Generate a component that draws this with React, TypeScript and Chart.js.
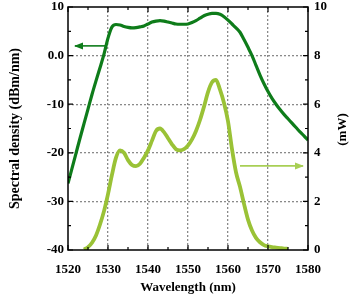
import React, { useEffect, useRef } from 'react';
import { Chart, registerables } from 'chart.js';

Chart.register(...registerables);

const wavelengths = [
  1520, 1521, 1522, 1523, 1524, 1525, 1526, 1527, 1528, 1529,
  1530, 1531, 1532, 1533, 1534, 1535, 1536, 1537, 1538, 1539,
  1540, 1541, 1542, 1543, 1544, 1545, 1546, 1547, 1548, 1549,
  1550, 1551, 1552, 1553, 1554, 1555, 1556, 1557, 1558, 1559,
  1560, 1561, 1562, 1563, 1564, 1565, 1566, 1567, 1568, 1569,
  1570, 1571, 1572, 1573, 1574, 1575, 1576, 1577, 1578, 1579, 1580,
];

const spectralDensity = [
  -26.3, -23.2, -20.1, -17.0, -14.0, -11.0, -8.0, -5.2, -2.5, 0.3,
  3.6, 5.9, 6.4, 6.3, 6.0, 5.8, 5.7, 5.75, 5.9, 6.1,
  6.5, 6.9, 7.1, 7.2, 7.1, 6.9, 6.7, 6.5, 6.45, 6.45,
  6.5, 6.8, 7.2, 7.7, 8.2, 8.5, 8.7, 8.7, 8.5, 8.0,
  7.3, 6.5, 5.7, 4.8, 3.3, 1.7, 0.0, -2.0, -4.0, -5.8,
  -7.4, -8.8, -10.0, -11.1, -12.1, -13.0, -13.9, -14.8, -15.7, -16.5, -17.4,
];

const powerMw = [
  null, null, null, null, 0.02, 0.12, 0.3, 0.6, 1.05, 1.6,
  2.3, 3.1, 3.8, 4.1, 4.0, 3.7, 3.5, 3.45, 3.55, 3.8,
  4.1, 4.5, 4.9, 5.0, 4.85, 4.6, 4.35, 4.15, 4.1, 4.15,
  4.3, 4.55, 4.9, 5.35, 5.9, 6.5, 6.9, 7.0, 6.6, 6.05,
  5.3, 4.15, 3.2, 2.6, 1.9, 1.25, 0.8, 0.5, 0.32, 0.2,
  0.15, 0.12, 0.1, 0.08, 0.06, 0.05, null, null, null, null, null,
];

const xTickValues = [1520, 1530, 1540, 1550, 1560, 1570, 1580];
const leftTickValues = [-40, -30, -20, -10, 0, 10];
const rightTickValues = [0, 2, 4, 6, 8, 10];

const xTitle = 'Wavelength (nm)';
const leftTitle = 'Spectral density (dBm/nm)';
const rightTitle = '(mW)';

// arrows: [x1, x2, y] in data units
const leftArrow = [1529.5, 1521.75, 2.0];
const rightArrow = [1563, 1578.75, 3.46];

const DARK = '#0e7c1a';
const LIGHT = '#9ac236';
const LIGHT_ARROW = '#a8cf55';
const FONT = '"Liberation Serif", "Times New Roman", serif';

const decorPlugin = {
  id: 'decor',
  afterDatasetsDraw(chart: any) {
    const { ctx, chartArea: a, scales } = chart;
    const x = scales.x, y = scales.y, y2 = scales.y2;
    ctx.save();
    ctx.strokeStyle = '#000';
    ctx.lineWidth = 1.2;
    ctx.beginPath();
    for (let v = 1520; v <= 1580; v += 5) {
      const px = x.getPixelForValue(v);
      const len = v % 10 === 0 ? 5 : 3;
      ctx.moveTo(px, a.bottom);
      ctx.lineTo(px, a.bottom - len);
      ctx.moveTo(px, a.top);
      ctx.lineTo(px, a.top + len);
    }
    for (let v = -40; v <= 10; v += 5) {
      const py = y.getPixelForValue(v);
      const len = v % 10 === 0 ? 5 : 3;
      ctx.moveTo(a.left, py);
      ctx.lineTo(a.left + len, py);
    }
    for (let v = 0; v <= 10; v += 1) {
      const py = y2.getPixelForValue(v);
      const len = v % 2 === 0 ? 5 : 3;
      ctx.moveTo(a.right, py);
      ctx.lineTo(a.right - len, py);
    }
    ctx.stroke();
    ctx.lineWidth = 1.5;
    ctx.strokeRect(a.left, a.top, a.right - a.left, a.bottom - a.top);

    const drawArrow = (x1: number, x2: number, py: number, color: string) => {
      ctx.strokeStyle = color;
      ctx.fillStyle = color;
      ctx.lineWidth = 1.6;
      ctx.beginPath();
      ctx.moveTo(x1, py);
      ctx.lineTo(x2, py);
      ctx.stroke();
      const dir = x2 > x1 ? 1 : -1;
      ctx.beginPath();
      ctx.moveTo(x2 + dir * 1, py);
      ctx.lineTo(x2 - dir * 8, py - 3.5);
      ctx.lineTo(x2 - dir * 8, py + 3.5);
      ctx.closePath();
      ctx.fill();
    };
    drawArrow(x.getPixelForValue(leftArrow[0]), x.getPixelForValue(leftArrow[1]), y.getPixelForValue(leftArrow[2]), DARK);
    drawArrow(x.getPixelForValue(rightArrow[0]), x.getPixelForValue(rightArrow[1]), y2.getPixelForValue(rightArrow[2]), LIGHT_ARROW);

    ctx.fillStyle = '#000';
    ctx.font = `bold 13px ${FONT}`;
    ctx.textAlign = 'center';
    ctx.textBaseline = 'middle';
    ctx.translate(343, (a.top + a.bottom) / 2 + 1);
    ctx.rotate(-Math.PI / 2);
    ctx.fillText(rightTitle, 0, 0);
    ctx.restore();
  },
};

export default function App() {
  const ref = useRef<HTMLCanvasElement | null>(null);

  useEffect(() => {
    if (!ref.current) return;
    const tickFont = { family: FONT, size: 13, weight: 'bold' as const, lineHeight: 1 };
    const gridColor = (c: any) => {
      const t = c.tick;
      if (!t) return 'transparent';
      const s = c.scale;
      if (t.value === s.min || t.value === s.max) return 'transparent';
      return '#8a8a8a';
    };
    const fitV = (w: number) => (s: any) => { s.width = w; s.paddingTop = 0; s.paddingBottom = 0; };
    const chart = new Chart(ref.current, {
      type: 'line',
      data: {
        datasets: [
          {
            label: 'Spectral density',
            data: wavelengths.map((w, i) => ({ x: w, y: spectralDensity[i] })),
            borderColor: DARK,
            borderWidth: 3.2,
            pointRadius: 0,
            cubicInterpolationMode: 'monotone',
            yAxisID: 'y',
          },
          {
            label: 'Power',
            data: wavelengths.map((w, i) => ({ x: w, y: powerMw[i] })),
            borderColor: LIGHT,
            borderWidth: 3.8,
            pointRadius: 0,
            cubicInterpolationMode: 'monotone',
            spanGaps: false,
            yAxisID: 'y2',
          },
        ],
      },
      options: {
        animation: false,
        responsive: false,
        layout: { padding: { top: 7, left: 0, right: 0, bottom: 0 } },
        plugins: { legend: { display: false }, tooltip: { enabled: false } },
        scales: {
          x: {
            type: 'linear',
            min: 1520,
            max: 1580,
            afterBuildTicks: (s: any) => { s.ticks = xTickValues.map((v) => ({ value: v })); },
            afterFit: (s: any) => { s.height = 50; },
            ticks: { font: tickFont, color: '#000', padding: 13, maxRotation: 0, autoSkip: false, callback: (v: any) => String(v) },
            grid: { color: gridColor, lineWidth: 1.3, drawTicks: false },
            border: { display: false, dash: [2, 2] },
            title: { display: true, text: xTitle, color: '#000', font: { family: FONT, size: 13, weight: 'bold', lineHeight: 1.2 }, padding: { top: 0, bottom: 5 } },
          },
          y: {
            type: 'linear',
            position: 'left',
            min: -40,
            max: 10,
            afterBuildTicks: (s: any) => { s.ticks = leftTickValues.map((v) => ({ value: v })); },
            afterFit: fitV(68),
            ticks: { font: tickFont, color: '#000', padding: 4, callback: (v: any) => (v === 0 ? '0.0' : String(v)) },
            grid: { color: gridColor, lineWidth: 1.3, drawTicks: false },
            border: { display: false, dash: [2, 2] },
            title: { display: true, text: leftTitle, color: '#000', font: { family: FONT, size: 14, weight: 'bold', lineHeight: 1.2 }, padding: { top: 7, bottom: 0 } },
          },
          y2: {
            type: 'linear',
            position: 'right',
            min: 0,
            max: 10,
            afterBuildTicks: (s: any) => { s.ticks = rightTickValues.map((v) => ({ value: v })); },
            afterFit: fitV(52),
            ticks: { font: tickFont, color: '#000', padding: 6 },
            grid: { display: false, drawTicks: false },
            border: { display: false },
          },
        },
      },
      plugins: [decorPlugin],
    });
    return () => chart.destroy();
  }, []);

  return (
    <div style={{ position: 'fixed', left: 0, top: 0, width: 360, height: 300, background: '#fff' }}>
      <canvas ref={ref} width={360} height={300} style={{ width: 360, height: 300, display: 'block' }} />
    </div>
  );
}
